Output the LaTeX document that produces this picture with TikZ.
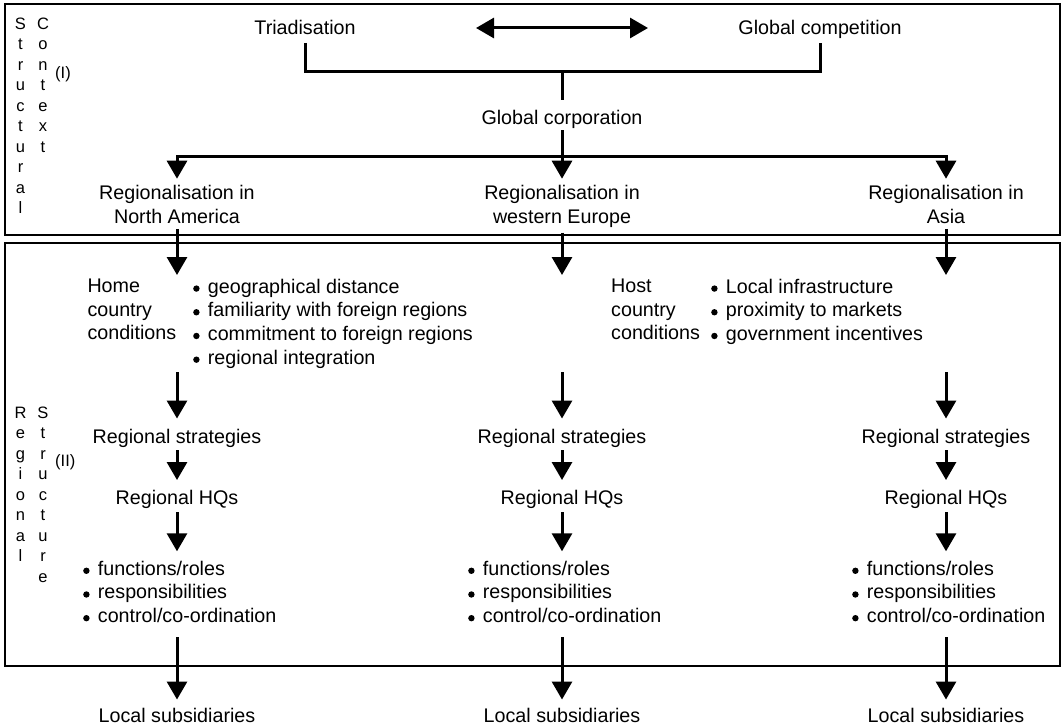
\documentclass[tikz,border=0pt]{standalone}
\usepackage{fontspec}
\setmainfont{Liberation Sans}
\usetikzlibrary{arrows.meta}
\newcommand{\fmain}{\fontsize{19.7}{23.7}\selectfont}
\newcommand{\fside}{\fontsize{16.5}{20.5}\selectfont}
\newcommand{\itm}{\tikz[baseline=-4.5pt]\fill (0pt,0pt) circle (3.2pt);\hspace{8.3pt}}

\begin{document}
\begin{tikzpicture}[x=1pt,y=-1pt,
  lbl/.style={font=\fmain, inner sep=0pt},
  side/.style={font=\fside, inner sep=0pt, align=center, anchor=north},
  ln/.style={line width=3pt},
  arr/.style={ln, -{Triangle[length=18pt,width=20pt]}},
  box/.style={line width=2.7pt}]
\useasboundingbox (0,0) rectangle (1064,725);

% structural context (I)
\draw[box] (5,4) rectangle (1060,235);
\node[side] (sc1) at (20.5,17.5) {S\\t\\r\\u\\c\\t\\u\\r\\a\\l};
\node[side] (sc2) at (43,17.5) {C\\o\\n\\t\\e\\x\\t};
\node[lbl, font=\fside, anchor=base west] (sc3) at (55,78) {(I)};

\node[lbl, anchor=base] (triad) at (305,35) {Triadisation};
\node[lbl, anchor=base] (glob) at (820,35) {Global competition};
\coordinate (dl) at (476,28);
\coordinate (dr) at (648,28);
\draw[ln, {Triangle[length=18pt,width=20pt]}-{Triangle[length=18pt,width=20pt]}] (dl) -- (dr);
\coordinate (tl) at (305,43);
\coordinate (tr) at (820,43);
\coordinate (brk) at (562,71);
\draw[ln] (tl) |- (brk) -| (tr);
\node[lbl, anchor=base] (corp) at (562,124) {Global corporation};
\draw[ln, shorten >=10pt] (brk) -- (corp);

\node[lbl, align=center, anchor=north] (regL) at (177,185.2) {Regionalisation in\\North America};
\node[lbl, align=center, anchor=north] (regM) at (562,185.2) {Regionalisation in\\western Europe};
\node[lbl, align=center, anchor=north] (regR) at (946,185.2) {Regionalisation in\\Asia};
\coordinate (spl) at (562,156);
\draw[arr, shorten <=2pt, shorten >=6.5pt] (corp) -- (regM);
\draw[arr, shorten >=6.5pt] (spl) -| (regL);
\draw[arr, shorten >=6.5pt] (spl) -| (regR);

% regional structure (II)
\draw[box] (5,243) rectangle (1060,666);
\node[side] (rs1) at (20.5,406.5) {R\\e\\g\\i\\o\\n\\a\\l};
\node[side] (rs2) at (43,406.5) {S\\t\\r\\u\\c\\t\\u\\r\\e};
\node[lbl, font=\fside, anchor=base west] (rs3) at (55,466.5) {(II)};

\node[lbl, align=left, anchor=north west] (home) at (87.3,278.6) {Home\\country\\conditions};
\node[lbl, align=left, anchor=north west] (homef) at (193,278.6)
  {\itm geographical distance\\\itm familiarity with foreign regions\\\itm commitment to foreign regions\\\itm regional integration};
\node[lbl, align=left, anchor=north west] (host) at (611,278.6) {Host\\country\\conditions};
\node[lbl, align=left, anchor=north west] (hostf) at (711,278.6)
  {\itm Local infrastructure\\\itm proximity to markets\\\itm government incentives};

\foreach \c/\x in {L/177,M/562,R/946}{
  \coordinate (a\c) at (\x,275);
  \coordinate (b\c) at (\x,372);
  \coordinate (d\c) at (\x,637);
  \node[lbl, anchor=base] (strat\c) at (\x,443) {Regional strategies};
  \node[lbl, anchor=base] (hq\c) at (\x,504) {Regional HQs};
  \node[lbl, align=left, anchor=north west] (fun\c) at (\x-94,560.8)
    {\itm functions/roles\\\itm responsibilities\\\itm control/co-ordination};
  \node[lbl, anchor=base] (loc\c) at (\x,722) {Local subsidiaries};
  \draw[arr, shorten <=5pt] (reg\c) -- (a\c);
  \draw[arr, shorten >=10pt] (b\c) -- (strat\c);
  \draw[arr, shorten <=3pt, shorten >=9.5pt] (strat\c) -- (hq\c);
  \draw[arr, shorten <=4pt, shorten >=9.5pt] (hq\c) -- (hq\c |- fun\c.north);
  \draw[arr, shorten >=8pt] (d\c) -- (loc\c);
}
\end{tikzpicture}
\end{document}
